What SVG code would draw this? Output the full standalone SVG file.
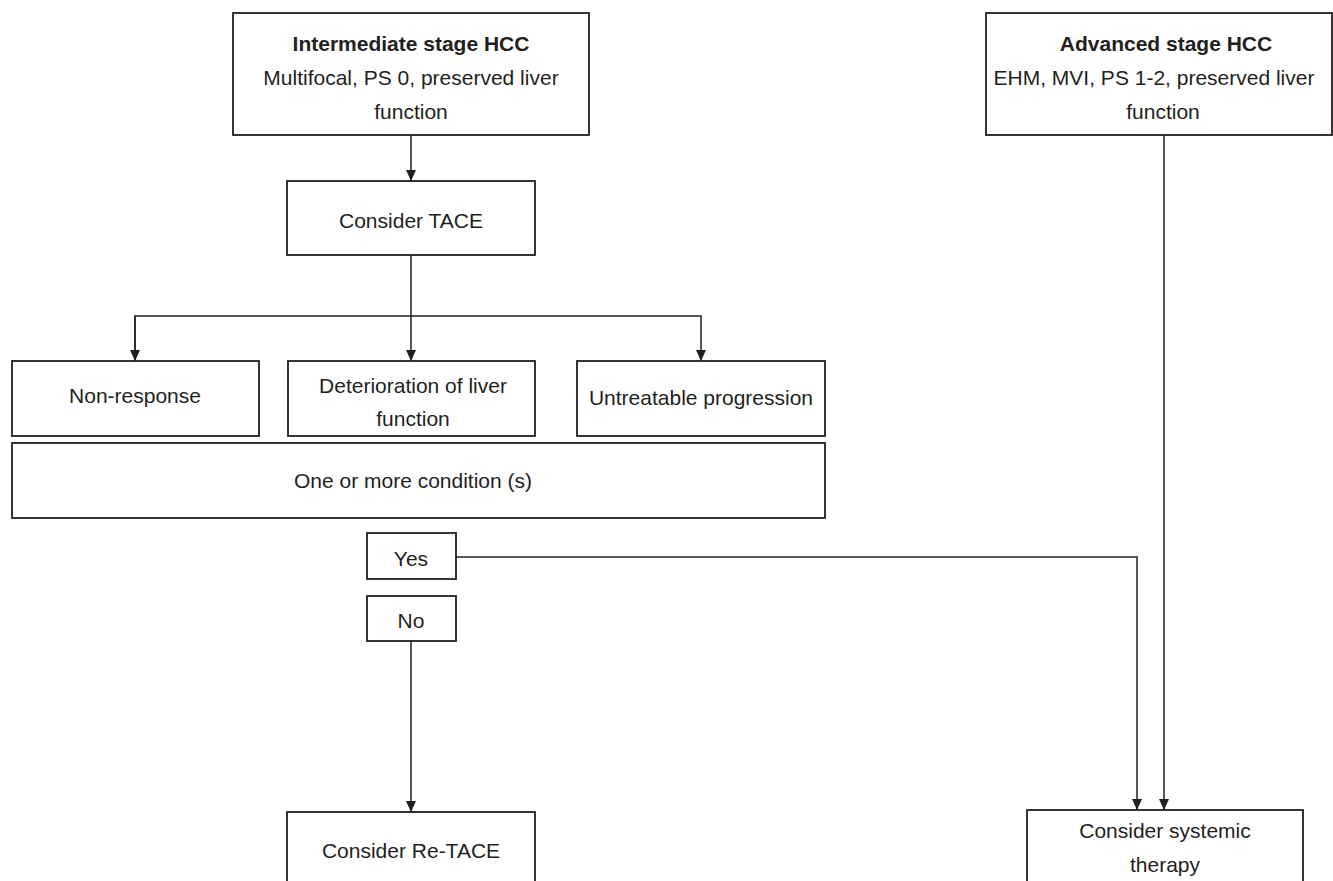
<svg xmlns="http://www.w3.org/2000/svg" width="1333" height="881" viewBox="0 0 1333 881">
<style>
.box{fill:#fff;stroke:#231f20;stroke-width:1.8}
.t{font-family:"Liberation Sans",Arial,sans-serif;font-size:21px;fill:#231f20;text-anchor:middle}
.b{font-weight:bold}
.c{fill:none;stroke:#231f20;stroke-width:1.5}
</style>
<defs>
<marker id="ah" markerWidth="11" markerHeight="10" refX="11" refY="5" orient="auto" markerUnits="userSpaceOnUse" viewBox="0 0 11 10" preserveAspectRatio="none">
<path d="M0,0 L11,5 L0,10 Z" fill="#231f20"/>
</marker>
</defs>
<rect width="1333" height="881" fill="#fff"/>
<g id="connectors">
<path class="c" d="M411,135 V181" marker-end="url(#ah)"/>
<path class="c" d="M411,255 V361" marker-end="url(#ah)"/>
<path class="c" d="M135,361 V316 H701 V361" marker-end="url(#ah)"/>
<path class="c" d="M135,316 V361" marker-end="url(#ah)"/>
<path class="c" d="M456,557 H1137 V810" marker-end="url(#ah)"/>
<path class="c" d="M411,641 V812" marker-end="url(#ah)"/>
<path class="c" d="M1164,135 V810" marker-end="url(#ah)"/>
</g>
<g id="intermediate">
<rect class="box" x="233" y="13" width="356" height="122"/>
<text class="t b" x="411" y="51">Intermediate stage HCC</text>
<text class="t" x="411" y="85">Multifocal, PS 0, preserved liver</text>
<text class="t" x="411" y="119">function</text>
</g>
<g id="advanced">
<rect class="box" x="986" y="13" width="346" height="122"/>
<text class="t b" x="1166" y="51">Advanced stage HCC</text>
<text class="t" x="1154" y="85">EHM, MVI, PS 1-2, preserved liver</text>
<text class="t" x="1163" y="119">function</text>
</g>
<g id="tace">
<rect class="box" x="287" y="181" width="248" height="74"/>
<text class="t" x="411" y="228">Consider TACE</text>
</g>
<g id="nonresponse">
<rect class="box" x="12" y="361" width="247" height="75"/>
<text class="t" x="135" y="403">Non-response</text>
</g>
<g id="deterioration">
<rect class="box" x="288" y="361" width="247" height="75"/>
<text class="t" x="413" y="393">Deterioration of liver</text>
<text class="t" x="413" y="426">function</text>
</g>
<g id="untreatable">
<rect class="box" x="577" y="361" width="248" height="75"/>
<text class="t" x="701" y="405">Untreatable progression</text>
</g>
<g id="condition">
<rect class="box" x="12" y="443" width="813" height="75"/>
<text class="t" x="413" y="488">One or more condition (s)</text>
</g>
<g id="yes">
<rect class="box" x="367" y="533" width="89" height="46"/>
<text class="t" x="411" y="566">Yes</text>
</g>
<g id="no">
<rect class="box" x="367" y="596" width="89" height="45"/>
<text class="t" x="411" y="628">No</text>
</g>
<g id="retace">
<rect class="box" x="287" y="812" width="248" height="100"/>
<text class="t" x="411" y="858">Consider Re-TACE</text>
</g>
<g id="systemic">
<rect class="box" x="1027" y="810" width="276" height="100"/>
<text class="t" x="1165" y="838">Consider systemic</text>
<text class="t" x="1165" y="872">therapy</text>
</g>
</svg>
